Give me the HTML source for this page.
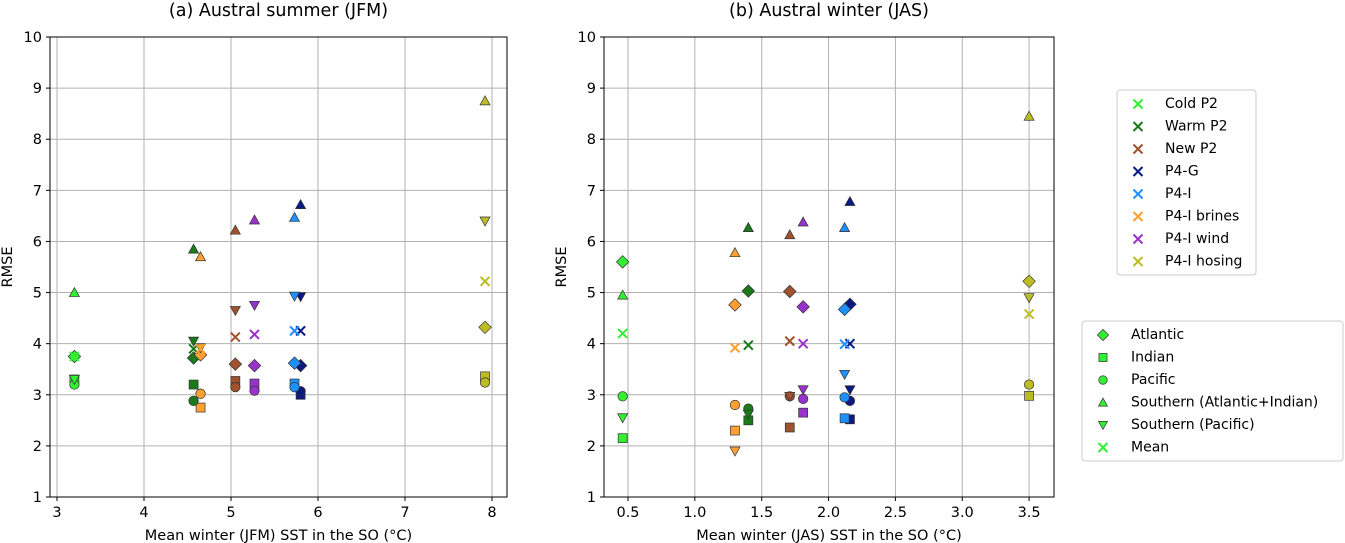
<!DOCTYPE html>
<html><head><meta charset="utf-8">
<style>
body{margin:0;background:#fff;}
svg{display:block;font-family:"DejaVu Sans","Liberation Sans",sans-serif;}
</style></head>
<body>
<svg id="fig" width="1345" height="543" viewBox="0 0 1345 543"></svg>
<script>
const experiments = ["Cold P2","Warm P2","New P2","P4-G","P4-I","P4-I brines","P4-I wind","P4-I hosing"];
const expColors = ["#33ee33","#1a7a1a","#a0522d","#0a1a80","#1e90ff","#ffa030","#9932cc","#bcbd22"];
const regions = ["Atlantic","Indian","Pacific","Southern (Atlantic+Indian)","Southern (Pacific)","Mean"];
const regionMarkers = ["diamond","square","circle","up","down","x"];
// JFM panel
const xJFM = [3.2,4.57,5.05,5.8,5.73,4.65,5.27,7.92];
const atlJFM = [3.75,3.72,3.6,3.57,3.62,3.78,3.57,4.32];
const indJFM = [3.3,3.2,3.27,3.0,3.22,2.75,3.22,3.36];
const pacJFM = [3.2,2.88,3.15,3.07,3.15,3.02,3.08,3.24];
const saiJFM = [5.0,5.85,6.22,6.72,6.47,5.7,6.42,8.75];
const spJFM = [3.3,4.05,4.65,4.92,4.93,3.92,4.75,6.4];
const meanJFM = [3.75,3.9,4.13,4.25,4.25,3.9,4.18,5.22];
// JAS panel
const xJAS = [0.46,1.4,1.71,2.16,2.12,1.3,1.81,3.5];
const atlJAS = [5.6,5.03,5.02,4.77,4.67,4.76,4.72,5.22];
const indJAS = [2.15,2.5,2.36,2.52,2.54,2.3,2.65,2.98];
const pacJAS = [2.97,2.73,2.97,2.88,2.95,2.8,2.92,3.2];
const saiJAS = [4.95,6.27,6.13,6.78,6.27,5.78,6.38,8.45];
const spJAS = [2.55,2.62,2.97,3.1,3.4,1.9,3.1,4.9];
const meanJAS = [4.2,3.97,4.05,4.0,3.99,3.92,4.0,4.58];
const xTicksJFM = [3,4,5,6,7,8];
const xTicksJAS = [0.5,1.0,1.5,2.0,2.5,3.0,3.5];
const yTicks = [1,2,3,4,5,6,7,8,9,10];

const NS="http://www.w3.org/2000/svg";
const svg=document.getElementById('fig');
function el(tag,attrs,parent){const e=document.createElementNS(NS,tag);for(const k in attrs)e.setAttribute(k,attrs[k]);(parent||svg).appendChild(e);return e;}
function txt(s,attrs,parent){const t=el('text',attrs,parent);t.textContent=s;return t;}

function marker(kind,cx,cy,color,parent,s){
  s=s||5;let m;
  const st={fill:color,stroke:'#333','stroke-width':0.7};
  if(kind==='diamond'){m=el('polygon',Object.assign({points:`${cx},${cy-s*1.25} ${cx+s*1.25},${cy} ${cx},${cy+s*1.25} ${cx-s*1.25},${cy}`},st),parent);}
  else if(kind==='square'){m=el('rect',Object.assign({x:cx-s*0.9,y:cy-s*0.9,width:s*1.8,height:s*1.8},st),parent);}
  else if(kind==='circle'){m=el('circle',Object.assign({cx:cx,cy:cy,r:s*0.95},st),parent);}
  else if(kind==='up'){m=el('polygon',Object.assign({points:`${cx},${cy-s} ${cx+s},${cy+s*0.8} ${cx-s},${cy+s*0.8}`},st),parent);}
  else if(kind==='down'){m=el('polygon',Object.assign({points:`${cx},${cy+s} ${cx+s},${cy-s*0.8} ${cx-s},${cy-s*0.8}`},st),parent);}
  else {m=el('path',{d:`M${cx-4.5},${cy-4.5}L${cx+4.5},${cy+4.5}M${cx-4.5},${cy+4.5}L${cx+4.5},${cy-4.5}`,stroke:color,'stroke-width':2,fill:'none'},parent);}
  return m;
}

function panel(opt){
  const g=el('g',{});
  
  
  const L=opt.left,R=opt.right,T=37,B=497;
  const xs=v=>opt.x0px+(v-opt.x0)*opt.kx;
  const ys=v=>B-(v-1)*(B-T)/9;
  yTicks.forEach(v=>{
    const l=el('line',{x1:L,x2:R,y1:ys(v),y2:ys(v),stroke:'#b0b0b0','stroke-width':1},g);
    
    el('line',{x1:L-4,x2:L,y1:ys(v),y2:ys(v),stroke:'#000'},g);
    const t=txt(String(v),{x:L-8,y:ys(v)+5,'text-anchor':'end','font-size':14.5},g);
    
  });
  opt.xticks.forEach(v=>{
    const l=el('line',{x1:xs(v),x2:xs(v),y1:T,y2:B,stroke:'#b0b0b0','stroke-width':1},g);
    
    el('line',{x1:xs(v),x2:xs(v),y1:B,y2:B+4,stroke:'#000'},g);
    const t=txt(opt.fmt(v),{x:xs(v),y:B+20,'text-anchor':'middle','font-size':14.5},g);
    
  });
  const series=[opt.atl,opt.ind,opt.pac,opt.sai,opt.sp,opt.mean];
  series.forEach((arr,ri)=>{
    arr.forEach((v,ei)=>{
      const m=marker(regionMarkers[ri],xs(opt.xv[ei]),ys(v),expColors[ei],g);
      
      
    });
  });
  const fr=el('rect',{x:L,y:T,width:R-L,height:B-T,fill:'none',stroke:'#000','stroke-width':1},g);
  
  const ti=txt(opt.title,{x:(L+R)/2,y:16,'text-anchor':'middle','font-size':17.5},g);
  
  const xl=txt(opt.xlabel,{x:(L+R)/2,y:540,'text-anchor':'middle','font-size':14.5},g);
  
  const yl=txt('RMSE',{x:0,y:0,'text-anchor':'middle','font-size':14.5,transform:`translate(${L-38},${(T+B)/2}) rotate(-90)`},g);
  
}

panel({name:'panel-jfm',left:50,right:507,x0:3,x0px:57,kx:87,xticks:xTicksJFM,fmt:v=>String(v),xv:xJFM,
  atl:atlJFM,ind:indJFM,pac:pacJFM,sai:saiJFM,sp:spJFM,mean:meanJFM,
  title:'(a) Austral summer (JFM)',xlabel:'Mean winter (JFM) SST in the SO (°C)'});
panel({name:'panel-jas',left:604,right:1054,x0:0.5,x0px:628,kx:133.7,xticks:xTicksJAS,fmt:v=>v.toFixed(1),xv:xJAS,
  atl:atlJAS,ind:indJAS,pac:pacJAS,sai:saiJAS,sp:spJAS,mean:meanJAS,
  title:'(b) Austral winter (JAS)',xlabel:'Mean winter (JAS) SST in the SO (°C)'});

// legend 1: experiments
const lg1=el('g',{});


el('rect',{x:1117,y:90,width:139,height:185,rx:3,fill:'#fff',stroke:'#ccc'},lg1);
experiments.forEach((n,i)=>{
  const y=103+i*22.5;
  const m=marker('x',1138,y+1,expColors[i],lg1);
  
  
  const t=txt(n,{x:1165,y:y+5,'font-size':14},lg1);
  
  
});
// legend 2: regions
const lg2=el('g',{});


el('rect',{x:1082,y:321,width:261,height:140,rx:3,fill:'#fff',stroke:'#ccc'},lg2);
regions.forEach((n,i)=>{
  const y=334+i*22.5;
  const m=marker(regionMarkers[i],1103,y+1,'#33ee33',lg2,i===0?4.5:4.5);
  
  
  const t=txt(n,{x:1131,y:y+5,'font-size':14},lg2);
  
  
});
</script>
</body></html>
